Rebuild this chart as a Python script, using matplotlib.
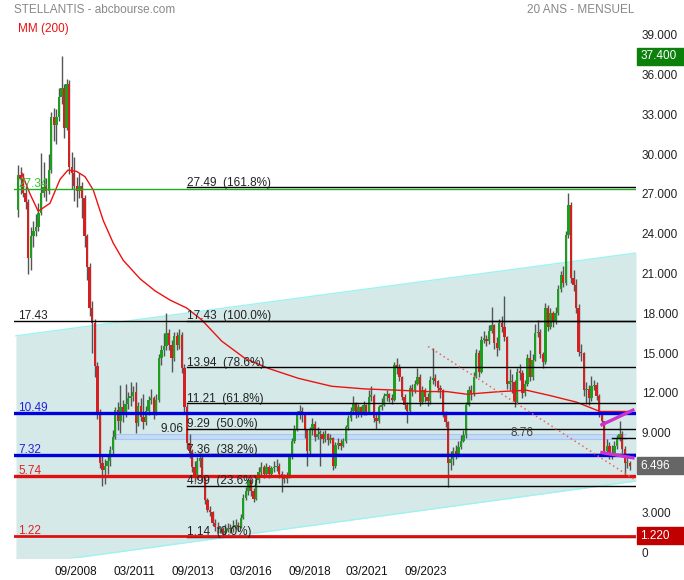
import numpy as np
import matplotlib
matplotlib.use('Agg')
import matplotlib.pyplot as plt
import matplotlib.transforms as mtransforms
from matplotlib.patches import Rectangle

plt.rcParams['font.family'] = ['Liberation Sans', 'DejaVu Sans']

# monthly candles, index 0 = first month shown (20 years -> 240 bars)
first_open = 25.8
close = [28.4, 28.1, 27.1, 26.4, 22.2, 23.8, 24.2, 24.5, 25.6, 27.1, 27.5, 27.2,
         28.8, 32.8, 32.2, 32.8, 34.3, 35.0, 32.0, 35.3, 29.0, 28.6, 27.6, 27.2,
         27.6, 26.7, 23.8, 21.5, 18.4, 17.3, 14.0, 10.5, 6.7, 6.2, 6.5, 6.9,
         7.7, 8.7, 10.7, 9.9, 10.9, 10.4, 11.2, 11.6, 11.8, 12.1, 9.7, 11.0,
         10.2, 9.8, 10.6, 11.5, 11.6, 10.4, 11.5, 14.6, 15.2, 15.5, 16.5, 15.6,
         14.6, 16.3, 15.6, 16.4, 13.9, 10.9, 8.2, 7.6, 6.4, 5.8, 6.9, 7.1,
         5.6, 3.9, 3.2, 3.0, 2.2, 1.9, 1.7, 1.75, 1.45, 1.6, 1.8, 1.7,
         1.9, 2.0, 1.9, 2.6, 4.1, 4.6, 5.4, 4.6, 4.0, 5.4, 6.0, 6.4,
         5.9, 6.4, 5.9, 6.3, 6.4, 6.5, 5.9, 5.6, 5.5, 5.7, 7.2, 8.4,
         9.3, 10.4, 10.6, 10.3, 9.2, 7.6, 9.2, 9.65, 8.7, 8.9, 8.9, 8.5,
         8.9, 8.45, 8.6, 6.5, 8.1, 8.2, 8.0, 8.4, 9.4, 10.1, 10.6, 11.2,
         10.4, 10.9, 10.4, 11.1, 10.5, 11.7, 11.8, 10.1, 9.9, 10.9, 11.1, 11.8,
         11.9, 11.6, 11.5, 14.1, 13.9, 13.2, 11.7, 11.1, 10.6, 12.4, 12.2, 12.7,
         13.2, 11.3, 12.2, 11.7, 11.4, 13.0, 13.1, 12.9, 12.4, 12.2, 10.5, 9.8,
         6.7, 7.0, 7.6, 7.3, 7.9, 8.4, 8.8, 11.1, 12.2, 12.0, 13.2, 15.0,
         13.6, 16.0, 16.1, 15.9, 16.7, 17.1, 15.8, 15.4, 17.3, 17.0, 16.2, 12.7,
         12.9, 12.8, 11.3, 13.6, 13.5, 12.0, 12.7, 14.6, 13.2, 14.5, 16.5, 16.6,
         14.9, 14.3, 18.4, 17.0, 18.0, 17.4, 18.0, 19.8, 20.9, 20.3, 23.9, 26.2,
         20.7, 20.1, 18.4, 15.1, 15.0, 12.2, 12.3, 11.6, 12.5, 12.6, 11.8, 10.4,
         9.9, 7.6, 8.0, 7.2, 7.5, 8.0, 8.5, 8.9, 7.8, 6.7, 6.7, 6.496]
high = [29.2, 29.0, 28.6, 27.6, 26.6, 24.5, 25.0, 25.5, 26.3, 30.1, 29.4, 28.2,
        30.0, 33.2, 33.5, 33.4, 35.0, 37.4, 35.3, 35.7, 35.6, 30.2, 29.8, 28.3,
        28.6, 27.9, 26.9, 24.0, 21.8, 18.9, 17.6, 14.3, 10.8, 7.4, 7.0, 7.3,
        8.0, 9.2, 10.9, 11.3, 12.6, 11.5, 12.7, 12.1, 12.8, 12.5, 12.8, 11.3,
        11.6, 11.9, 11.0, 11.8, 12.3, 11.8, 11.9, 14.9, 15.6, 16.5, 18.0, 16.8,
        16.0, 16.6, 16.6, 16.8, 16.6, 14.2, 11.2, 8.9, 7.8, 6.9, 7.2, 7.5,
        7.3, 5.8, 4.1, 3.5, 3.1, 2.5, 2.3, 2.0, 1.9, 2.1, 2.2, 2.1,
        2.4, 2.5, 2.3, 2.9, 4.4, 4.9, 5.6, 5.5, 4.8, 5.6, 6.4, 6.8,
        6.6, 6.7, 6.6, 6.5, 6.9, 7.0, 6.7, 6.1, 5.9, 6.0, 7.3, 8.6,
        9.6, 10.6, 11.1, 10.9, 10.5, 9.3, 9.4, 10.1, 9.9, 9.4, 9.2, 9.1,
        9.2, 9.0, 8.9, 8.7, 8.3, 8.6, 8.5, 8.6, 9.6, 10.3, 10.9, 11.8,
        11.3, 11.2, 11.0, 11.4, 11.2, 12.2, 12.5, 11.9, 10.4, 11.1, 11.6, 12.0,
        12.2, 12.0, 11.9, 14.3, 14.6, 14.2, 13.3, 11.9, 11.3, 12.6, 12.7, 13.0,
        13.9, 13.4, 12.5, 12.4, 12.0, 13.3, 15.4, 13.4, 13.0, 12.6, 12.3, 10.6,
        9.9, 7.6, 7.9, 8.1, 8.4, 8.8, 9.2, 11.3, 12.5, 12.6, 13.6, 15.3,
        15.2, 16.3, 16.7, 16.4, 17.1, 18.5, 17.2, 16.2, 17.6, 17.8, 19.3, 16.3,
        13.8, 13.4, 13.0, 13.9, 14.2, 13.7, 13.0, 14.9, 15.2, 14.9, 17.2, 17.5,
        16.8, 15.1, 18.8, 18.6, 18.4, 18.2, 18.5, 20.1, 21.2, 21.6, 24.2, 27.1,
        26.4, 21.3, 20.6, 18.7, 15.7, 15.1, 12.8, 12.6, 13.3, 13.0, 12.8, 11.9,
        10.6, 9.9, 8.5, 8.3, 8.1, 8.4, 8.8, 9.9, 9.1, 8.0, 7.2, 6.9]
low = [25.3, 27.0, 26.8, 25.9, 21.0, 21.3, 23.0, 23.8, 24.2, 25.4, 26.8, 26.5,
       27.0, 28.6, 31.0, 30.8, 32.5, 33.8, 31.2, 31.8, 28.5, 27.4, 26.5, 26.0,
       26.7, 25.2, 23.0, 20.5, 17.8, 15.0, 13.2, 10.0, 6.3, 5.0, 5.1, 5.9,
       6.5, 7.4, 8.5, 9.2, 9.0, 9.8, 10.2, 10.8, 11.0, 11.4, 9.0, 9.5,
       9.9, 9.3, 9.6, 10.3, 11.2, 10.0, 10.3, 11.3, 14.1, 14.8, 15.2, 15.2,
       13.6, 14.4, 15.2, 15.3, 13.5, 10.5, 7.8, 7.1, 6.0, 5.3, 5.5, 6.4,
       5.3, 3.6, 3.0, 2.7, 2.0, 1.6, 1.4, 1.4, 1.14, 1.3, 1.5, 1.4,
       1.5, 1.7, 1.6, 1.8, 2.5, 3.9, 4.3, 4.2, 3.8, 3.9, 5.2, 5.8,
       5.6, 5.7, 5.6, 5.7, 6.0, 6.1, 5.6, 4.5, 5.2, 5.2, 5.6, 7.0,
       8.2, 9.1, 10.0, 9.8, 8.6, 6.5, 7.4, 8.8, 8.4, 8.5, 6.5, 8.2,
       8.3, 8.1, 8.2, 6.2, 6.3, 7.8, 7.7, 7.9, 8.2, 9.2, 9.9, 10.5,
       10.1, 10.2, 10.2, 10.3, 10.3, 10.4, 11.4, 9.8, 9.3, 9.7, 10.7, 11.0,
       11.4, 11.3, 11.2, 11.4, 13.4, 12.9, 11.5, 10.8, 9.7, 10.5, 11.8, 12.0,
       12.6, 11.0, 11.2, 11.3, 11.0, 11.2, 12.7, 12.5, 12.1, 11.6, 10.2, 9.4,
       4.9, 6.2, 6.6, 7.0, 7.2, 7.8, 8.3, 8.6, 11.0, 11.5, 11.8, 13.1,
       13.2, 13.5, 15.8, 15.5, 15.7, 16.5, 15.3, 14.8, 15.2, 16.6, 15.9, 12.3,
       12.2, 12.0, 10.9, 11.2, 13.0, 11.6, 11.8, 12.5, 12.9, 13.0, 14.4, 16.2,
       14.6, 13.9, 14.2, 16.7, 16.8, 17.0, 17.2, 17.9, 19.6, 20.0, 20.1, 23.7,
       20.3, 19.7, 18.0, 14.8, 14.4, 11.8, 11.2, 11.1, 11.4, 12.2, 11.5, 10.2,
       9.6, 7.3, 7.3, 7.0, 7.0, 7.3, 7.8, 8.4, 7.5, 5.7, 6.3, 6.2]

# MM (200) (x in month index)
ma_x = [1.4, 4.7, 7.9, 12.5, 16.4, 19.5, 22.9, 26.2, 29.4, 33.3, 37.2, 41.1,
        47.7, 53.5, 59.4, 65.9, 71.8, 79.6, 88.7, 97.8, 109.5, 122.5, 135.5,
        148.6, 160.2, 167.5, 175.3, 188.3, 198.7, 207.8, 218.2, 227.3, 232.5, 239.1]
ma_y = [28.6, 27.0, 25.7, 26.3, 28.1, 28.8, 28.7, 28.3, 27.3, 25.0, 23.3, 22.0,
        20.6, 19.7, 19.0, 18.4, 17.5, 15.9, 14.6, 13.85, 13.1, 12.5, 12.3,
        12.2, 12.1, 12.1, 11.9, 12.1, 12.2, 11.8, 11.3, 10.6, 10.6, 10.6]

# date labels of the x axis and where they sit (month index)
date_labels = ['09/2008', '03/2011', '09/2013', '03/2016', '09/2018', '03/2021', '09/2023']
date_pos = [22.7, 45.3, 68.4, 91.0, 114.1, 136.3, 159.4]

# regression channel
chan_x = [-0.8, 241.4]
chan_top = [16.3, 22.55]
chan_bot = [-1.05, 5.35]

# fibonacci retracements
fib_levels = [27.49, 17.43, 13.94, 11.21, 9.29, 7.36, 4.99, 1.14]
fib_pct = ['161.8%', '100.0%', '78.6%', '61.8%', '50.0%', '38.2%', '23.6%', '0.0%']
fib_start = 66

# support / resistance lines: value, colour, width
sr_levels = [27.34, 17.43, 10.49, 7.32, 5.74, 1.22]
sr_colors = ['#1fae1f', '#000000', '#0000dd', '#0000dd', '#e01010', '#e01010']
sr_widths = [1.0, 1.0, 2.4, 2.4, 2.4, 2.0]
sr_text_colors = ['#2ec52e', '#222222', '#2222dd', '#2222dd', '#dd2222', '#dd2222']

band_x = [37.1, 237.5]
band_lo, band_hi = 8.56, 8.9

trend_x = [160.2, 241.4]
trend_y = [15.5, 5.4]
wedge_x = [228.1, 240.2]
wedge_top = [9.6, 10.7]
wedge_bot = [7.5, 7.1]

close = np.array(close)
high = np.array(high)
low = np.array(low)
opn = np.r_[first_open, close[:-1]]
idx = np.arange(len(close))

fig = plt.figure(figsize=(6.84, 5.8), dpi=100)
ax = fig.add_axes([14/684, 22/580, 622/684, 538/580])
ax.set_xlim(-1.56, 241.4)
ax.set_ylim(-0.45, 40.12)

# channel
ax.fill_between(chan_x, chan_bot, chan_top, color='#d5eae8', lw=0, zorder=0)
ax.plot(chan_x, chan_top, color='#9ef2f2', lw=1, zorder=1)
ax.plot(chan_x, chan_bot, color='#9ef2f2', lw=1, zorder=1)

# band
ax.fill_between(band_x, band_lo, band_hi, color='#c4daf6', lw=0, zorder=1)
ax.plot(band_x, [band_hi, band_hi], color='#a8c8f0', lw=0.8, zorder=1)
ax.plot(band_x, [band_lo, band_lo], color='#a8c8f0', lw=0.8, zorder=1)

# candles
up = close >= opn
ax.vlines(idx, low, high, color='#555555', lw=1.0, zorder=2)
body = np.maximum(np.abs(close - opn), 0.12)
bottom = np.minimum(close, opn)
ax.bar(idx[up], body[up], bottom=bottom[up], width=0.92, color='#1e9e1e', lw=0, zorder=3)
ax.bar(idx[~up], body[~up], bottom=bottom[~up], width=0.92, color='#d42020', lw=0, zorder=3)

# MA
ax.plot(ma_x, ma_y, color='#ee1111', lw=1.0, zorder=4)

# fib lines
for lev, pct in zip(fib_levels, fib_pct):
    ax.plot([fib_start, 241.4], [lev, lev], color='black', lw=1, zorder=4)
    ax.text(fib_start, lev + 0.12, '%.2f  (%s)' % (lev, pct), fontsize=8.5,
            color='#222222', va='baseline', ha='left', zorder=6)
ax.plot([232, 241.4], [8.6, 8.6], color='black', lw=1, zorder=4)

# support / resistance
for lev, c, w, tc in zip(sr_levels, sr_colors, sr_widths, sr_text_colors):
    ax.plot([-1.56, 241.4], [lev, lev], color=c, lw=w, zorder=5)
    ax.text(0, lev + 0.15, '%.2f' % lev, fontsize=8.5, color=tc, va='baseline',
            ha='left', zorder=6)

ax.text(64.5, 9.06, '9.06', fontsize=8.5, color='#222222', va='baseline', ha='right', zorder=6)
ax.text(192.2, 8.76, '8.76', fontsize=8.5, color='#444444', va='baseline', ha='left', zorder=6)

# trend line and wedge
ax.plot(trend_x, trend_y, color='#f06060', lw=1.1, ls=(0, (1, 2)), zorder=5)
ax.plot(wedge_x, wedge_top, color='#cc33cc', lw=2.4, zorder=5)
ax.plot(wedge_x, wedge_bot, color='#cc33cc', lw=2.4, zorder=5)

# axes
for s in ax.spines.values():
    s.set_visible(False)
ax.yaxis.tick_right()
yt = [0, 3, 9, 12, 15, 18, 21, 24, 27, 30, 33, 36, 39]   # 6 hidden under the last price badge
ax.set_yticks(yt)
ax.set_yticklabels(['%d.000' % v if v else '0' for v in yt])
ax.tick_params(axis='y', length=0, pad=4, labelsize=8.5, labelcolor='#222222')
ax.set_xticks(date_pos)
ax.set_xticklabels(date_labels, family=['Liberation Sans Narrow', 'Liberation Sans'])
ax.tick_params(axis='x', length=0, pad=6, labelsize=8.5, labelcolor='#111111')

# price badges on the right
trans = mtransforms.blended_transform_factory(ax.transAxes, ax.transData)
badges = [(37.4, '37.400', '#0b800b'), (6.496, '6.496', '#666666'), (1.22, '1.220', '#c00000')]
for v, t, c in badges:
    ax.add_patch(Rectangle((1.0016, v - 0.64), 0.0756, 1.28, transform=trans,
                           color=c, clip_on=False, zorder=7))
    ax.text(1.0065, v, t, transform=trans, color='white', fontsize=8.5,
            va='center', ha='left', zorder=8)

fig.text(14/684, 1 - 10/580, 'STELLANTIS - abcbourse.com', color='#888888', fontsize=8.5, va='center')
fig.text(634/684, 1 - 10/580, '20 ANS - MENSUEL', color='#888888', fontsize=8.5, va='center', ha='right')
fig.text(18/684, 1 - 29/580, 'MM (200)', color='#ee1111', fontsize=8.5, va='center')

fig.savefig('out.png', dpi=100)
